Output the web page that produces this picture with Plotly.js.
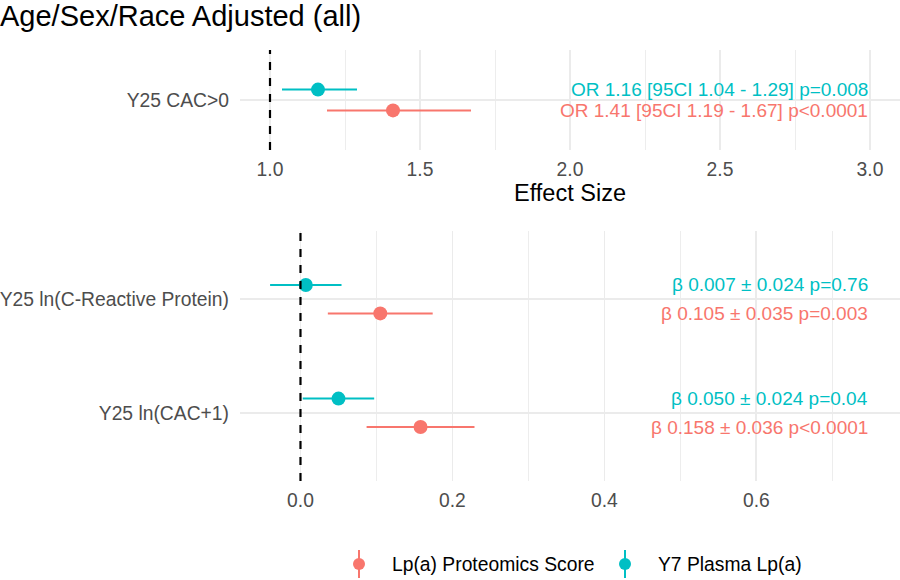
<!DOCTYPE html>
<html>
<head>
<meta charset="utf-8">
<script src="https://cdn.plot.ly/plotly-3.0.1.min.js"></script>
<style>
  html, body { margin: 0; padding: 0; background: #ffffff; }
  #chart { width: 900px; height: 580px; }
</style>
</head>
<body>
<div id="chart"></div>
<script>
// Odds ratio outcome (top panel)
const orOutcomes = ['Y25 CAC>0'];
const orProt = [1.41];
const orProtLo = [1.19];
const orProtHi = [1.67];
const orProtP = ['p<0.0001'];
const orPlasma = [1.16];
const orPlasmaLo = [1.04];
const orPlasmaHi = [1.29];
const orPlasmaP = ['p=0.008'];

// Linear outcomes (bottom panel), listed top to bottom
const betaOutcomes = ['Y25 ln(C-Reactive Protein)', 'Y25 ln(CAC+1)'];
const betaProt = [0.105, 0.158];
const betaProtSE = [0.035, 0.036];
const betaProtLo = [0.036, 0.087];
const betaProtHi = [0.174, 0.229];
const betaProtP = ['p=0.003', 'p<0.0001'];
const betaPlasma = [0.007, 0.050];
const betaPlasmaSE = [0.024, 0.024];
const betaPlasmaLo = [-0.040, 0.003];
const betaPlasmaHi = [0.054, 0.097];
const betaPlasmaP = ['p=0.76', 'p=0.04'];

const seriesNames = ['Lp(a) Proteomics Score', 'Y7 Plasma Lp(a)'];
const colProt = '#F8766D';
const colPlasma = '#00BFC4';
const seriesColors = [colProt, colPlasma];
const FONT = 'Liberation Sans, Arial, sans-serif';
const DODGE = 0.125;
const W = 900, H = 580;

// category slot: first listed outcome sits at the top
const slot = (arr) => arr.map((_, i) => arr.length - i);

function errTrace(name, x, lo, hi, y, color, xa, ya) {
  return {
    type: 'scatter', mode: 'markers', name: name,
    x: x, y: y, xaxis: xa, yaxis: ya, showlegend: false,
    marker: { color: color, size: 14 },
    error_x: {
      type: 'data', symmetric: false,
      array: hi.map((h, i) => h - x[i]),
      arrayminus: lo.map((l, i) => x[i] - l),
      color: color, thickness: 2, width: 0
    },
    hoverinfo: 'x+y'
  };
}

const orSlots = slot(orOutcomes);
const betaSlots = slot(betaOutcomes);

const traces = [
  errTrace(seriesNames[0], orProt, orProtLo, orProtHi, orSlots.map(v => v - DODGE), colProt, 'x', 'y'),
  errTrace(seriesNames[1], orPlasma, orPlasmaLo, orPlasmaHi, orSlots.map(v => v + DODGE), colPlasma, 'x', 'y'),
  errTrace(seriesNames[0], betaProt, betaProtLo, betaProtHi, betaSlots.map(v => v - DODGE), colProt, 'x2', 'y2'),
  errTrace(seriesNames[1], betaPlasma, betaPlasmaLo, betaPlasmaHi, betaSlots.map(v => v + DODGE), colPlasma, 'x2', 'y2')
];

// effect-size labels, right aligned at the panel's text column
const annotations = [];
const labelFont = (c) => ({ family: FONT, size: 19, color: c });
orOutcomes.forEach((_, i) => {
  annotations.push({
    xref: 'x', yref: 'y', x: 3.0, y: orSlots[i] + DODGE, xanchor: 'right', yanchor: 'middle',
    text: 'OR ' + orPlasma[i].toFixed(2) + ' [95CI ' + orPlasmaLo[i].toFixed(2) + ' - ' + orPlasmaHi[i].toFixed(2) + '] ' + orPlasmaP[i],
    showarrow: false, font: labelFont(colPlasma)
  });
  annotations.push({
    xref: 'x', yref: 'y', x: 3.0, y: orSlots[i] - DODGE, xanchor: 'right', yanchor: 'middle',
    text: 'OR ' + orProt[i].toFixed(2) + ' [95CI ' + orProtLo[i].toFixed(2) + ' - ' + orProtHi[i].toFixed(2) + '] ' + orProtP[i],
    showarrow: false, font: labelFont(colProt)
  });
});
betaOutcomes.forEach((_, i) => {
  annotations.push({
    xref: 'x2', yref: 'y2', x: 0.75, y: betaSlots[i] + DODGE, xanchor: 'right', yanchor: 'middle',
    text: 'β ' + betaPlasma[i].toFixed(3) + ' ± ' + betaPlasmaSE[i].toFixed(3) + ' ' + betaPlasmaP[i],
    showarrow: false, font: labelFont(colPlasma)
  });
  annotations.push({
    xref: 'x2', yref: 'y2', x: 0.75, y: betaSlots[i] - DODGE, xanchor: 'right', yanchor: 'middle',
    text: 'β ' + betaProt[i].toFixed(3) + ' ± ' + betaProtSE[i].toFixed(3) + ' ' + betaProtP[i],
    showarrow: false, font: labelFont(colProt)
  });
});

// bottom legend: point-range key (dot with a vertical stroke) followed by its label
const legendKeyX = [359, 625];
const legendY = 564;
const shapes = [
  { type: 'line', xref: 'x', yref: 'y domain', x0: 1, x1: 1, y0: 0, y1: 1, layer: 'above',
    line: { color: '#000000', width: 2.2, dash: '8px,8px' } },
  { type: 'line', xref: 'x2', yref: 'y2 domain', x0: 0, x1: 0, y0: 0, y1: 1, layer: 'above',
    line: { color: '#000000', width: 2.2, dash: '8px,8px' } }
];
seriesNames.forEach((name, i) => {
  const cx = legendKeyX[i];
  shapes.push({
    type: 'line', xref: 'paper', yref: 'paper',
    x0: cx / W, x1: cx / W, y0: 1 - (legendY - 14) / H, y1: 1 - (legendY + 14) / H,
    line: { color: seriesColors[i], width: 2 }
  });
  shapes.push({
    type: 'circle', xref: 'paper', yref: 'paper',
    x0: (cx - 6) / W, x1: (cx + 6) / W, y0: 1 - (legendY - 6) / H, y1: 1 - (legendY + 6) / H,
    fillcolor: seriesColors[i], line: { width: 0 }
  });
  annotations.push({
    xref: 'paper', yref: 'paper', x: (cx + 31) / W, y: 1 - (legendY + 0.5) / H,
    xanchor: 'left', yanchor: 'middle', showarrow: false, text: name,
    font: { family: FONT, size: 19.3, color: '#000000' }
  });
});

const GRID = '#EBEBEB';
const tickFont = { family: FONT, size: 19.3, color: '#4D4D4D' };

const layout = {
  width: W, height: H,
  paper_bgcolor: '#ffffff', plot_bgcolor: '#ffffff',
  margin: { l: 0, r: 0, t: 0, b: 0, autoexpand: false },
  font: { family: FONT },
  title: {
    text: 'Age/Sex/Race Adjusted (all)',
    font: { family: FONT, size: 29, color: '#000000' },
    xref: 'paper', x: 0, xanchor: 'left',
    yref: 'paper', y: 1 - 16 / H, yanchor: 'middle'
  },
  showlegend: false,
  xaxis: {
    domain: [240 / W, 1], range: [0.9, 3.1], anchor: 'y',
    tickmode: 'array', tickvals: [1, 1.5, 2, 2.5, 3], ticktext: ['1.0', '1.5', '2.0', '2.5', '3.0'],
    showgrid: true, gridcolor: GRID, gridwidth: 1.8,
    minor: { tick0: 1, dtick: 0.25, showgrid: true, gridcolor: GRID, gridwidth: 0.9 },
    zeroline: false, showline: false, ticks: '', tickfont: tickFont, ticklabelstandoff: 6,
    title: { text: 'Effect Size', font: { family: FONT, size: 23.5, color: '#000000' }, standoff: 5 },
    automargin: false, fixedrange: true
  },
  yaxis: {
    domain: [1 - 150 / H, 1 - 50 / H], range: [0.4, 1.6], anchor: 'x',
    tickmode: 'array', tickvals: orSlots, ticktext: orOutcomes,
    showgrid: true, gridcolor: GRID, gridwidth: 1.8,
    zeroline: false, showline: false, ticks: '', tickfont: tickFont, ticklabelstandoff: 10,
    automargin: false, fixedrange: true
  },
  xaxis2: {
    domain: [240 / W, 1], range: [-0.0796, 0.789], anchor: 'y2',
    tickmode: 'array', tickvals: [0, 0.2, 0.4, 0.6], ticktext: ['0.0', '0.2', '0.4', '0.6'],
    showgrid: true, gridcolor: GRID, gridwidth: 1.8,
    minor: { tick0: 0, dtick: 0.1, showgrid: true, gridcolor: GRID, gridwidth: 0.9 },
    zeroline: false, showline: false, ticks: '', tickfont: tickFont, ticklabelstandoff: 6,
    automargin: false, fixedrange: true
  },
  yaxis2: {
    domain: [1 - 481 / H, 1 - 231 / H], range: [0.4, 2.6], anchor: 'x2',
    tickmode: 'array', tickvals: betaSlots, ticktext: betaOutcomes,
    showgrid: true, gridcolor: GRID, gridwidth: 1.8,
    zeroline: false, showline: false, ticks: '', tickfont: tickFont, ticklabelstandoff: 10,
    automargin: false, fixedrange: true
  },
  shapes: shapes,
  annotations: annotations
};

Plotly.newPlot('chart', traces, layout, { displayModeBar: false, staticPlot: true });
</script>
</body>
</html>
